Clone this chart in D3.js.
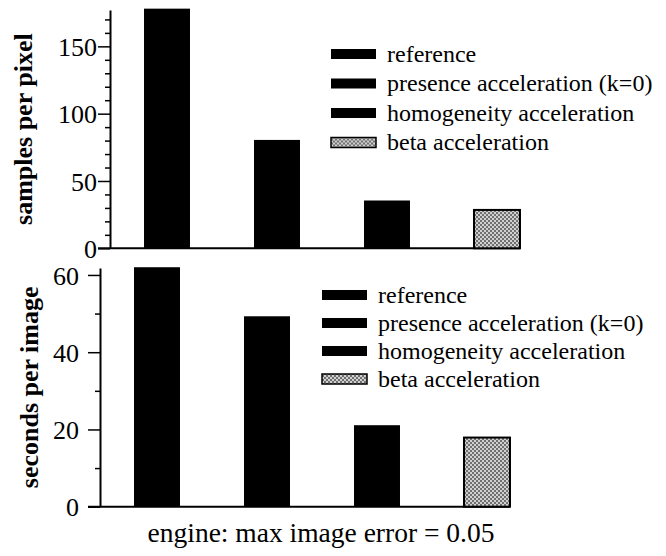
<!DOCTYPE html>
<html>
<head>
<meta charset="utf-8">
<script src="https://cdn.jsdelivr.net/npm/d3@7"></script>
<style>
  body { margin: 0; background: #fff; }
  text { font-family: "Liberation Serif", "Times New Roman", serif; fill: #000; }
</style>
</head>
<body>
<div id="chart"></div>
<script>
// data
const categories = ["reference", "presence acceleration (k=0)", "homogeneity acceleration", "beta acceleration"];
const samplesPerPixel = [178, 80.5, 35.5, 28.5];
const secondsPerImage = [62, 49.3, 21.1, 17.9];
const samplesTicks = [0, 50, 100, 150];
const secondsTicks = [0, 20, 40, 60];
const caption = "engine: max image error = 0.05";

const width = 666, height = 556;
const serif = "Liberation Serif, Times New Roman, serif";

const svg = d3.select("#chart")
  .append("svg")
  .attr("width", width)
  .attr("height", height)
  .attr("font-family", serif);

// dotted grey fill for the beta bar
const defs = svg.append("defs");
const pat = defs.append("pattern")
  .attr("id", "dots")
  .attr("patternUnits", "userSpaceOnUse")
  .attr("width", 4)
  .attr("height", 4);
pat.append("rect").attr("width", 4).attr("height", 4).attr("fill", "#d0d0d0");
pat.append("rect").attr("x", 0).attr("y", 0).attr("width", 2).attr("height", 2).attr("fill", "#707070");
pat.append("rect").attr("x", 2).attr("y", 2).attr("width", 2).attr("height", 2).attr("fill", "#707070");

const fills = ["#000", "#000", "#000", "url(#dots)"];

function panel(opts) {
  const g = svg.append("g");

  const x = d3.scaleBand()
    .domain(categories)
    .range([opts.axisX + 2, opts.axisX + 2 + 440])
    .paddingInner(0.582)
    .paddingOuter(0.291);

  const y = d3.scaleLinear()
    .domain([0, opts.top])
    .range([opts.baseY, opts.topY]);

  // baseline
  g.append("line")
    .attr("x1", opts.axisX - 12)
    .attr("x2", x(categories[3]) + x.bandwidth())
    .attr("y1", y(0))
    .attr("y2", y(0))
    .attr("stroke", "#000")
    .attr("stroke-width", 2);

  // bars
  g.selectAll("rect.bar")
    .data(opts.values)
    .join("rect")
    .attr("class", "bar")
    .attr("x", (d, i) => x(categories[i]))
    .attr("width", x.bandwidth())
    .attr("y", d => y(d))
    .attr("height", d => y(0) - y(d))
    .attr("fill", (d, i) => fills[i])
    .attr("stroke", "#000")
    .attr("stroke-width", (d, i) => i === 3 ? 2 : 0);

  // minor ticks
  const minor = d3.range(10, opts.top, 10).filter(v => !opts.ticks.includes(v));
  g.append("g")
    .attr("transform", `translate(${opts.axisX},0)`)
    .call(d3.axisLeft(y).tickValues(minor).tickSize(5).tickSizeOuter(0).tickFormat(""))
    .call(a => a.select(".domain").remove())
    .call(a => a.selectAll("line").attr("stroke-width", 1.5));

  // major ticks + axis line
  g.append("g")
    .attr("transform", `translate(${opts.axisX},0)`)
    .call(d3.axisLeft(y).tickValues(opts.ticks).tickSize(12).tickSizeOuter(0).tickPadding(opts.pad))
    .attr("font-family", serif)
    .call(a => a.select(".domain").attr("stroke-width", 2))
    .call(a => a.selectAll("line").attr("stroke-width", 1.5))
    .call(a => a.selectAll("text")
      .attr("font-family", serif)
      .attr("font-size", 26)
      .attr("dy", "0.35em"));

  // y label
  g.append("text")
    .attr("transform", `translate(${opts.labelX},${(opts.baseY + opts.topY) / 2}) rotate(-90)`)
    .attr("text-anchor", "middle")
    .attr("font-family", serif)
    .attr("font-size", 26)
    .attr("font-weight", "bold")
    .text(opts.label);

  // legend
  const leg = g.append("g")
    .attr("transform", `translate(${opts.legX},${opts.legY})`);
  const row = leg.selectAll("g")
    .data(categories)
    .join("g")
    .attr("transform", (d, i) => `translate(0,${i * opts.legStep})`);
  row.append("rect")
    .attr("x", 0)
    .attr("y", -5)
    .attr("width", 45)
    .attr("height", 10)
    .attr("fill", (d, i) => fills[i])
    .attr("stroke", "#000")
    .attr("stroke-width", (d, i) => i === 3 ? 1.5 : 0);
  row.append("text")
    .attr("x", opts.legText)
    .attr("y", 0)
    .attr("dy", "0.33em")
    .attr("font-family", serif)
    .attr("font-size", 24)
    .text(d => d);
}

panel({
  values: samplesPerPixel,
  ticks: samplesTicks,
  top: 177,
  baseY: 248.3,
  topY: 10,
  axisX: 110,
  pad: 1,
  labelX: 32,
  label: "samples per pixel",
  legX: 331,
  legY: 54,
  legStep: 29.5,
  legText: 56
});

panel({
  values: secondsPerImage,
  ticks: secondsTicks,
  top: 61.8,
  baseY: 506.7,
  topY: 268,
  axisX: 100,
  pad: 9,
  labelX: 38,
  label: "seconds per image",
  legX: 322,
  legY: 295,
  legStep: 28,
  legText: 56
});

svg.append("text")
  .attr("x", 321)
  .attr("y", 542)
  .attr("text-anchor", "middle")
  .attr("font-family", serif)
  .attr("font-size", 27.5)
  .text(caption);
</script>
</body>
</html>
